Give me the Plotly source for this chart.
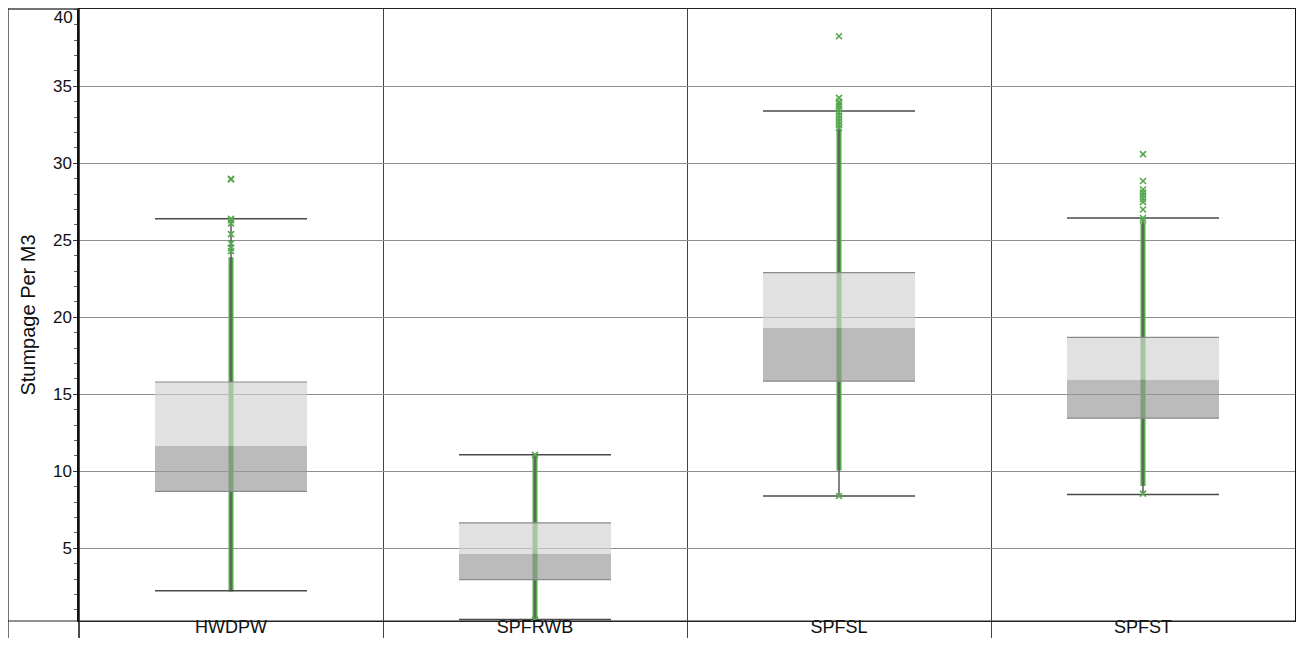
import plotly.graph_objects as go

# ---- data ----
categories = ["HWDPW", "SPFRWB", "SPFSL", "SPFST"]
whisker_low = [2.25, 0.38, 8.4, 8.5]
q1 = [8.7, 2.97, 15.85, 13.45]
median = [11.65, 4.65, 19.3, 15.95]
q3 = [15.8, 6.65, 22.9, 18.7]
whisker_high = [26.4, 11.07, 33.4, 26.45]

# range in which individual observations overlap into a solid band
dense_low = [2.2, 0.4, 10.05, 9.05]
dense_high = [23.9, 11.1, 32.2, 26.1]

# observations that are visible individually
sparse_points = {
    "HWDPW": [24.3, 24.5, 24.8, 25.4, 26.1, 26.3, 26.4, 28.95, 29.0],
    "SPFRWB": [0.35, 11.07],
    "SPFSL": [8.4, 32.3, 32.5, 32.7, 32.9, 33.1, 33.3, 33.5, 33.7, 33.85,
              34.0, 34.25, 38.25],
    "SPFST": [8.55, 26.3, 26.45, 27.0, 27.5, 27.7, 27.9, 28.1, 28.3, 28.85,
              30.6],
}

y_ticks = [5, 10, 15, 20, 25, 30, 35]
y_top_tick = [40]

GREEN = "#55a84d"
HALF = 0.25
Y_RANGE = [0.28, 40.02]

fig = go.Figure()

# solid bands of overlapping observations
for i, c in enumerate(categories):
    fig.add_trace(go.Scatter(
        x=[i, i], y=[dense_low[i], dense_high[i]], mode="lines",
        line=dict(color=GREEN, width=5), hoverinfo="skip", showlegend=False))

# whisker stems
for i, c in enumerate(categories):
    fig.add_trace(go.Scatter(
        x=[i, i, None, i, i],
        y=[whisker_low[i], q1[i], None, q3[i], whisker_high[i]],
        mode="lines", line=dict(color="#5a5a5a", width=1.5),
        hoverinfo="skip", showlegend=False))

# boxes: lower part (q1-median) darker, upper part (median-q3) lighter
for i, c in enumerate(categories):
    xs = [i - HALF, i + HALF, i + HALF, i - HALF, i - HALF]
    fig.add_trace(go.Scatter(
        x=xs, y=[q1[i], q1[i], median[i], median[i], q1[i]],
        mode="lines", fill="toself", fillcolor="rgba(152,152,152,0.66)",
        line=dict(width=0), hoverinfo="skip", showlegend=False))
    fig.add_trace(go.Scatter(
        x=xs, y=[median[i], median[i], q3[i], q3[i], median[i]],
        mode="lines", fill="toself", fillcolor="rgba(210,210,210,0.66)",
        line=dict(width=0), hoverinfo="skip", showlegend=False))
    # box edges at q1 and q3
    fig.add_trace(go.Scatter(
        x=[i - HALF, i + HALF, None, i - HALF, i + HALF],
        y=[q1[i], q1[i], None, q3[i], q3[i]],
        mode="lines", line=dict(color="#8a8a8a", width=1.2),
        hoverinfo="skip", showlegend=False))
    # whisker caps
    fig.add_trace(go.Scatter(
        x=[i - HALF, i + HALF, None, i - HALF, i + HALF],
        y=[whisker_low[i], whisker_low[i], None, whisker_high[i], whisker_high[i]],
        mode="lines", line=dict(color="#4a4a4a", width=1.5),
        hoverinfo="skip", showlegend=False))

# individual observations (on the overlay axis, same scale)
for i, c in enumerate(categories):
    pts = sparse_points[c]
    fig.add_trace(go.Scatter(
        x=[i] * len(pts), y=pts, mode="markers", yaxis="y2",
        marker=dict(symbol="x-thin", size=6, line=dict(color=GREEN, width=1.6)),
        showlegend=False, name=c))

FONT = "Liberation Sans, Arial, sans-serif"

# the page body adds an 8px margin on every side
W, H = 1288, 630
ML, MR, MT, MB = 71, 1, 1, 17
fig.update_layout(
    template="none",
    width=W, height=H,
    margin=dict(l=ML, r=MR, t=MT, b=MB, autoexpand=False),
    paper_bgcolor="white", plot_bgcolor="white",
    font=dict(family=FONT, color="#111"),
    showlegend=False,
    xaxis=dict(
        range=[-0.5, 3.5], tickmode="array", automargin=False,
        tickvals=list(range(len(categories))), ticktext=categories,
        ticks="", showgrid=False, zeroline=False,
        tickfont=dict(size=18, family=FONT, color="#111"),
        ticklabelstandoff=-11,
        showline=True, linecolor="#222", linewidth=1, mirror=True,
        minor=dict(tickmode="array", tickvals=[0.5, 1.5, 2.5],
                   ticks="outside", ticklen=MB, tickcolor="#444",
                   tickwidth=1, showgrid=True, gridcolor="#444",
                   gridwidth=1),
    ),
    yaxis=dict(
        range=Y_RANGE, tickmode="array", tickvals=y_ticks, automargin=False,
        ticks="outside", ticklen=4, tickcolor="#333",
        showgrid=True, gridcolor="#8e8e8e", gridwidth=1, zeroline=False,
        tickfont=dict(size=17, family=FONT, color="#111"),
        ticklabelstandoff=-2,
        showline=True, linecolor="#111", linewidth=1.5, mirror=True,
        minor=dict(dtick=1, ticks="outside", ticklen=3, tickcolor="#666",
                   showgrid=False),
        title=dict(text="Stumpage Per M3", font=dict(size=20, family=FONT,
                   color="#111"), standoff=12),
    ),
    yaxis2=dict(
        range=Y_RANGE, overlaying="y", side="left", anchor="x",
        tickmode="array", tickvals=y_top_tick,
        ticktext=[str(v) for v in y_top_tick], automargin=False,
        ticks="outside", ticklen=4, tickcolor="#333",
        showgrid=False, zeroline=False, showline=False,
        tickfont=dict(size=17, family=FONT, color="#111"),
        ticklabelstandoff=-2, ticklabelshift=8,
        ticklabeloverflow="allow",
    ),
)

# outer frame lines (table-like layout around the chart)
pw = W - ML - MR
fx = -ML / pw
fig.add_shape(type="line", xref="paper", yref="paper", x0=fx, x1=fx,
              y0=-0.06, y1=1.01, line=dict(color="#444", width=1.5))
fig.add_shape(type="line", xref="paper", yref="paper", x0=fx, x1=1,
              y0=0, y1=0, line=dict(color="#222", width=1))
fig.add_shape(type="line", xref="paper", yref="paper", x0=fx, x1=0,
              y0=1.0, y1=1.0, line=dict(color="#444", width=1.5))
fig.add_shape(type="line", xref="paper", yref="paper", x0=0, x1=0,
              y0=-0.06, y1=1.01, line=dict(color="#111", width=1.5))

fig.write_html("out.html")
